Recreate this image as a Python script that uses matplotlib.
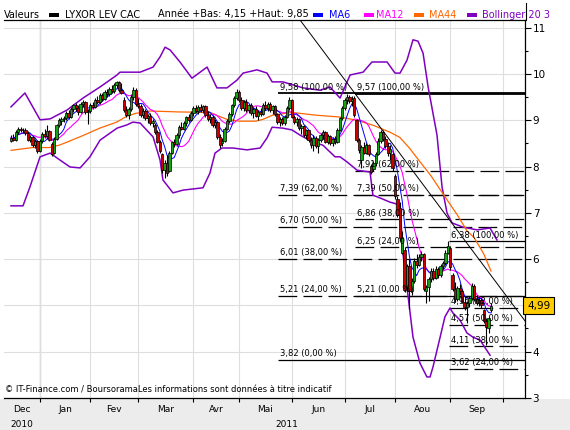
import matplotlib
matplotlib.use("Agg")
import matplotlib.pyplot as plt
import matplotlib.transforms as mtransforms
from matplotlib.patches import Rectangle
from matplotlib.lines import Line2D
import numpy as np
import pandas as pd

# daily candles, one per trading day (index 0 = mid Dec 2010)
opens = [8.55, 8.62, 8.58, 8.74, 8.82, 8.78, 8.80, 8.72, 8.58, 8.64, 8.46, 8.55,
         8.34, 8.56, 8.70, 8.66, 8.76, 8.48, 8.30, 8.60, 8.90, 8.98, 9.02, 9.04,
         9.16, 9.08, 9.24, 9.32, 9.26, 9.18, 9.36, 9.40, 9.18, 9.20, 9.34, 9.28,
         9.44, 9.40, 9.54, 9.46, 9.62, 9.56, 9.68, 9.64, 9.76, 9.82, 9.66, 9.44,
         9.22, 9.12, 9.24, 9.50, 9.66, 9.36, 9.30, 9.12, 9.20, 9.04, 9.10, 8.94,
         8.90, 8.74, 8.54, 8.26, 7.92, 8.08, 7.90, 8.30, 8.52, 8.48, 8.68, 8.86,
         8.82, 8.94, 9.06, 9.00, 9.16, 9.26, 9.20, 9.28, 9.22, 9.30, 9.12, 9.02,
         9.08, 8.90, 8.96, 8.64, 8.50, 8.56, 8.82, 8.98, 9.14, 9.32, 9.48, 9.62,
         9.44, 9.26, 9.40, 9.22, 9.32, 9.16, 9.24, 9.10, 9.18, 9.14, 9.34, 9.26,
         9.36, 9.22, 9.30, 9.14, 8.96, 9.02, 8.94, 9.08, 9.26, 9.44, 9.08, 8.96,
         9.02, 8.84, 8.88, 8.68, 8.78, 8.58, 8.46, 8.62, 8.44, 8.58, 8.68, 8.74,
         8.54, 8.66, 8.50, 8.60, 8.52, 8.80, 9.04, 9.26, 9.44, 9.50, 9.42, 9.48,
         9.00, 8.58, 8.14, 8.42, 8.30, 8.46, 8.02, 7.94, 8.08, 8.28, 8.56, 8.74,
         8.60, 8.44, 8.30, 8.28, 7.80, 7.30, 7.10, 6.14, 6.20, 5.40, 5.84, 5.30,
         5.52, 5.96, 5.88, 6.04, 6.10, 5.30, 5.40, 5.56, 5.74, 5.60, 5.78, 5.66,
         5.84, 5.92, 6.14, 6.24, 5.66, 5.36, 5.14, 5.38, 5.30, 5.08, 4.96, 5.04,
         5.16, 5.42, 5.14, 5.04, 5.12, 4.90, 4.66, 4.50, 4.90]
highs = [8.68, 8.70, 8.78, 8.86, 8.86, 8.84, 8.83, 8.76, 8.68, 8.66, 8.60, 8.58,
         8.60, 8.74, 8.82, 8.90, 8.80, 8.52, 8.64, 8.92, 9.05, 9.06, 9.10, 9.20,
         9.22, 9.28, 9.36, 9.38, 9.34, 9.40, 9.44, 9.42, 9.24, 9.38, 9.40, 9.48,
         9.52, 9.58, 9.60, 9.66, 9.68, 9.72, 9.76, 9.80, 9.85, 9.84, 9.80, 9.50,
         9.30, 9.28, 9.56, 9.72, 9.70, 9.48, 9.36, 9.26, 9.24, 9.14, 9.16, 9.02,
         8.94, 8.78, 8.58, 8.30, 8.14, 8.24, 8.34, 8.56, 8.60, 8.72, 8.90, 8.96,
         8.98, 9.10, 9.14, 9.20, 9.30, 9.34, 9.32, 9.36, 9.34, 9.32, 9.20, 9.14,
         9.12, 9.02, 8.98, 8.70, 8.62, 8.86, 9.02, 9.18, 9.36, 9.52, 9.68, 9.66,
         9.50, 9.44, 9.46, 9.36, 9.38, 9.28, 9.30, 9.22, 9.26, 9.38, 9.42, 9.40,
         9.40, 9.34, 9.34, 9.16, 9.06, 9.08, 9.12, 9.30, 9.50, 9.46, 9.12, 9.06,
         9.04, 8.92, 8.90, 8.82, 8.80, 8.64, 8.68, 8.66, 8.62, 8.72, 8.80, 8.76,
         8.70, 8.68, 8.64, 8.66, 8.84, 9.08, 9.30, 9.48, 9.56, 9.54, 9.52, 9.52,
         9.02, 8.62, 8.46, 8.52, 8.50, 8.48, 8.06, 8.12, 8.32, 8.62, 8.80, 8.78,
         8.66, 8.52, 8.46, 8.30, 7.84, 7.36, 7.24, 6.60, 6.26, 5.90, 6.00, 5.60,
         6.02, 6.10, 6.10, 6.18, 6.14, 5.44, 5.62, 5.80, 5.80, 5.84, 5.82, 5.90,
         5.96, 6.20, 6.38, 6.28, 5.70, 5.50, 5.42, 5.46, 5.36, 5.16, 5.10, 5.20,
         5.48, 5.46, 5.22, 5.18, 5.16, 4.92, 4.72, 4.76, 5.04]
lows = [8.52, 8.55, 8.56, 8.70, 8.74, 8.72, 8.68, 8.55, 8.52, 8.42, 8.40, 8.30,
        8.32, 8.50, 8.62, 8.60, 8.55, 8.22, 8.26, 8.58, 8.86, 8.90, 8.96, 9.00,
        9.02, 9.05, 9.18, 9.20, 9.12, 9.16, 9.28, 9.14, 8.92, 9.16, 9.24, 9.26,
        9.36, 9.36, 9.42, 9.44, 9.50, 9.52, 9.60, 9.60, 9.70, 9.62, 9.56, 9.18,
        9.06, 9.02, 9.20, 9.44, 9.30, 9.26, 9.08, 9.04, 9.00, 8.94, 8.90, 8.86,
        8.70, 8.50, 8.30, 7.86, 7.76, 7.80, 7.88, 8.26, 8.42, 8.44, 8.62, 8.78,
        8.80, 8.88, 8.96, 8.98, 9.10, 9.16, 9.14, 9.18, 9.16, 9.08, 8.98, 8.94,
        8.86, 8.84, 8.60, 8.40, 8.44, 8.52, 8.78, 8.94, 9.10, 9.28, 9.44, 9.40,
        9.22, 9.20, 9.18, 9.16, 9.12, 9.04, 9.06, 9.00, 9.10, 9.12, 9.22, 9.20,
        9.18, 9.14, 9.10, 8.92, 8.88, 8.90, 8.90, 9.04, 9.22, 9.04, 8.92, 8.88,
        8.80, 8.70, 8.64, 8.60, 8.54, 8.40, 8.34, 8.40, 8.30, 8.52, 8.60, 8.50,
        8.48, 8.46, 8.44, 8.48, 8.50, 8.76, 9.00, 9.22, 9.36, 9.38, 9.30, 9.08,
        8.54, 8.30, 7.96, 8.26, 8.26, 8.22, 7.84, 7.90, 8.02, 8.24, 8.50, 8.56,
        8.40, 8.22, 8.14, 7.90, 7.30, 6.90, 6.40, 6.10, 5.28, 5.30, 4.92, 5.22,
        5.48, 5.80, 5.84, 5.96, 5.30, 5.04, 5.10, 5.50, 5.54, 5.56, 5.60, 5.62,
        5.78, 5.88, 6.10, 5.76, 5.30, 5.08, 5.10, 5.22, 5.04, 4.90, 4.62, 4.96,
        5.12, 5.10, 5.00, 4.98, 4.94, 4.62, 4.15, 4.40, 4.86]
closes = [8.62, 8.58, 8.74, 8.82, 8.78, 8.80, 8.72, 8.58, 8.64, 8.46, 8.55, 8.34,
          8.56, 8.70, 8.66, 8.76, 8.58, 8.28, 8.60, 8.90, 9.00, 9.02, 9.04, 9.16,
          9.08, 9.24, 9.32, 9.26, 9.18, 9.36, 9.40, 9.18, 9.20, 9.34, 9.28, 9.44,
          9.40, 9.54, 9.46, 9.62, 9.56, 9.68, 9.64, 9.76, 9.82, 9.66, 9.60, 9.22,
          9.12, 9.24, 9.50, 9.66, 9.36, 9.30, 9.12, 9.20, 9.04, 9.10, 8.94, 8.98,
          8.74, 8.54, 8.34, 7.92, 8.08, 7.86, 8.30, 8.52, 8.48, 8.68, 8.86, 8.82,
          8.94, 9.06, 9.00, 9.16, 9.26, 9.20, 9.28, 9.22, 9.30, 9.12, 9.02, 9.08,
          8.90, 8.96, 8.64, 8.46, 8.56, 8.82, 8.98, 9.14, 9.32, 9.48, 9.62, 9.44,
          9.26, 9.40, 9.22, 9.32, 9.16, 9.24, 9.10, 9.18, 9.14, 9.34, 9.26, 9.36,
          9.22, 9.30, 9.14, 8.96, 9.02, 8.94, 9.08, 9.26, 9.44, 9.08, 8.96, 9.02,
          8.84, 8.88, 8.68, 8.78, 8.58, 8.46, 8.62, 8.44, 8.58, 8.68, 8.74, 8.54,
          8.66, 8.50, 8.60, 8.52, 8.80, 9.04, 9.26, 9.44, 9.50, 9.42, 9.46, 9.12,
          8.58, 8.36, 8.42, 8.30, 8.46, 8.26, 7.88, 8.08, 8.28, 8.56, 8.74, 8.60,
          8.44, 8.30, 8.38, 7.96, 7.36, 6.96, 6.46, 6.46, 5.34, 5.84, 5.30, 5.52,
          5.96, 5.88, 6.04, 6.10, 5.36, 5.40, 5.56, 5.74, 5.60, 5.78, 5.66, 5.84,
          5.92, 6.14, 6.28, 5.82, 5.36, 5.14, 5.38, 5.30, 5.08, 4.96, 5.04, 5.16,
          5.42, 5.14, 5.04, 5.12, 5.00, 4.66, 4.52, 4.72, 4.99]

# trading days per month on the axis (Dec only partly visible)
month_names = ["Dec", "Jan", "Fev", "Mar", "Avr", "Mai", "Jun", "Jul", "Aou", "Sep"]
month_days = [12, 21, 20, 23, 19, 22, 22, 21, 23, 22]

# MA44 and Bollinger 20/3 (day index, price)
ma44_idx = [0, 9, 16, 20, 23, 30, 37, 44, 48, 52, 58, 70, 83, 86, 90, 95, 102, 105,
            109, 117, 127, 137, 144, 151, 158, 162, 166, 170, 175, 180, 186, 190,
            193, 197, 200]
ma44_val = [8.35, 8.41, 8.41, 8.46, 8.52, 8.67, 8.83, 8.96, 9.08, 9.15, 9.20, 9.18,
            9.17, 9.10, 9.02, 8.98, 8.98, 9.02, 9.11, 9.17, 9.11, 9.07, 9.00, 8.89,
            8.74, 8.63, 8.40, 8.13, 7.80, 7.41, 6.95, 6.61, 6.46, 6.11, 5.74]

boll_up_idx = [0, 5.8, 12.1, 16.3, 23.3, 30, 37.1, 44.2, 45.4, 53.8, 59.2, 62.1,
               64.2, 66.3, 70.4, 75.4, 81.7, 85.8, 90, 94.2, 96.7, 102.5, 106.7,
               108.8, 113.3, 121.7, 128.8, 132.9, 137.1, 141.3, 146.7, 150.4,
               156.7, 160, 162.1, 165, 167.5, 169.6, 171.7, 173.8, 175.8, 177.5,
               179.6, 181.7, 183.8, 188.3, 194.2, 199.6, 202.5]
boll_up_val = [9.29, 9.59, 9.01, 9.03, 9.22, 9.48, 9.72, 9.98, 10.04, 10.04, 10.15,
               10.37, 10.58, 10.52, 10.26, 9.91, 10.15, 9.70, 9.70, 9.87, 10.02,
               10.09, 10.02, 9.83, 9.83, 9.70, 9.65, 9.72, 9.48, 9.98, 10.04, 10.26,
               10.26, 10.02, 10.02, 10.30, 10.74, 10.71, 10.45, 9.72, 9.16, 8.68,
               7.56, 6.99, 6.78, 6.69, 6.63, 6.67, 6.41]
boll_lo_idx = [0, 5, 7.9, 12.1, 16.3, 20.4, 24.6, 28.8, 32.9, 37.1, 44.2, 48.3,
               50.8, 53.8, 59.2, 62.1, 63.3, 67.5, 71.7, 80, 82.9, 85, 87.9, 92.5,
               98.3, 103.8, 106.7, 108.8, 113.3, 117.1, 120.4, 125.8, 130, 135,
               137.1, 140, 144.2, 149.6, 150.8, 153.8, 157.9, 162.1, 163.3, 165,
               167.5, 170.4, 173.3, 174.6, 175.8, 178.8, 180.8, 182.9, 184.2, 187.1,
               190, 192.5, 195.4, 199.6]
boll_lo_val = [7.15, 7.15, 7.56, 8.21, 8.29, 8.14, 7.99, 7.97, 8.21, 8.57, 8.83,
               8.90, 8.96, 8.94, 8.64, 8.14, 7.71, 7.43, 7.49, 7.54, 7.86, 8.29,
               8.40, 8.40, 8.36, 8.40, 8.62, 8.85, 8.83, 8.79, 8.68, 8.53, 8.46,
               8.21, 8.21, 8.10, 7.92, 7.88, 7.38, 7.32, 7.23, 7.17, 6.13, 5.39,
               4.31, 3.75, 3.45, 3.45, 3.66, 4.31, 4.75, 4.94, 4.83, 4.68, 4.40,
               4.31, 4.25, 3.92]

# black trend line (two anchors)
trend_idx = [120.4, 214.2]
trend_val = [11.17, 4.66]

# Fibonacci retracements: start day, levels, percentages
fib_start = [111.3, 143.3, 182.5]
fib_a_levels = [9.58, 7.39, 6.70, 6.01, 5.21, 3.82]
fib_a_pcts = [100, 62, 50, 38, 24, 0]
fib_b_levels = [9.57, 7.91, 7.39, 6.86, 6.25, 5.21]
fib_b_pcts = [100, 62, 50, 38, 24, 0]
fib_c_levels = [6.38, 4.95, 4.57, 4.11, 3.62]
fib_c_pcts = [100, 62, 50, 38, 24]

W, H = 570, 430


def fr(v):
    return f"{v:.2f}".replace(".", ",")


fig = plt.figure(figsize=(W / 100, H / 100), dpi=100)
fig.patch.set_facecolor("white")
fig.patches.append(Rectangle((0, 0), 1, 1 - 398.5 / H, transform=fig.transFigure,
                             facecolor="#ececec", edgecolor="none", zorder=-5))

ax = fig.add_axes([4 / W, 1 - 398 / H, 521 / W, 378 / H])
x_left, x_right = -2.92, 214.17
ax.set_xlim(x_left, x_right)
ax.set_ylim(2.995, 11.168)

bounds = np.cumsum(month_days)
ax.set_xticks(bounds[:-1] if bounds[-1] > x_right else bounds)
ax.set_xticklabels([])
edges = np.concatenate([[x_left], bounds])
centers = (edges[:-1] + edges[1:]) / 2
ax.set_xticks(centers, minor=True)
ax.set_xticklabels(month_names, minor=True, fontsize=6.5)
ax.tick_params(axis="x", which="major", length=3, width=0.8, direction="out")
ax.tick_params(axis="x", which="minor", length=0, pad=5)

# the last-price box hides the "5" label on the price axis
last = closes[-1]
yt = list(range(3, 12))
ax.yaxis.tick_right()
ax.set_yticks(yt)
ax.set_yticklabels(["" if abs(v - last) < 0.2 else str(v) for v in yt])
ax.set_yticks(np.arange(3.5, 11, 1.0), minor=True)
ax.tick_params(axis="y", which="major", length=4, width=0.8, labelsize=7.5, pad=1.5)
ax.tick_params(axis="y", which="minor", length=2.5, width=0.8)

ax.grid(True, which="major", color="#dedede", linewidth=0.8, zorder=0)
ax.axvline(bounds[0], color="#a8a8a8", linewidth=0.9, zorder=0.5)
ax.spines["left"].set_visible(False)
for s in ("top", "bottom", "right"):
    ax.spines[s].set_linewidth(0.9)

# year labels
ax.annotate("2010", (centers[0], 0), xycoords=("data", "axes fraction"),
            xytext=(0, -19), textcoords="offset points", ha="center", va="center",
            fontsize=6.5)
ax.annotate("2011", ((bounds[0] + x_right) / 2 + 2, 0), xycoords=("data", "axes fraction"),
            xytext=(0, -19), textcoords="offset points", ha="center", va="center",
            fontsize=6.5)

# Fibonacci lines
for start, levels, pcts in ((fib_start[0], fib_a_levels, fib_a_pcts),
                            (fib_start[1], fib_b_levels, fib_b_pcts),
                            (fib_start[2], fib_c_levels, fib_c_pcts)):
    for lev, pct in zip(levels, pcts):
        solid = pct in (100, 0)
        lw = 1.3 if (pct == 100 and lev > 9) else 0.9
        ax.hlines(lev, start, x_right, colors="black", linewidth=lw,
                  linestyles="solid" if solid else (0, (15, 5)), zorder=2)
        ax.annotate(f"{fr(lev)} ({pct},00 %)", (start, lev), xytext=(1.5, 1.2),
                    textcoords="offset points", fontsize=6, ha="left", va="bottom",
                    zorder=6)

# Bollinger, moving averages
ax.plot(boll_up_idx, boll_up_val, color="#8000c0", linewidth=1.1, zorder=3)
ax.plot(boll_lo_idx, boll_lo_val, color="#8000c0", linewidth=1.1, zorder=3)
ax.plot(ma44_idx, ma44_val, color="#ff6600", linewidth=0.9, zorder=3)

idx = np.arange(len(closes))
cl = pd.Series(closes)
ax.plot(idx, cl.rolling(12, min_periods=1).mean(), color="#ff00ff", linewidth=0.8, zorder=3)
ax.plot(idx, cl.rolling(6, min_periods=1).mean(), color="#0000ff", linewidth=0.7, zorder=3)

# candles
o = np.array(opens)
c = np.array(closes)
colors = np.where(c >= o, "#11a611", "#cc0000")
ax.vlines(idx, lows, highs, color="black", linewidth=0.8, zorder=4)
ax.bar(idx, np.abs(c - o), bottom=np.minimum(o, c), width=0.95, color=colors,
       edgecolor="black", linewidth=0.5, zorder=5)

ax.plot(trend_idx, trend_val, color="black", linewidth=0.7, zorder=4)

# last price box
blend = mtransforms.blended_transform_factory(ax.transAxes, ax.transData)
ax.text(1.004, last, fr(last), transform=blend, fontsize=7.5,
        ha="left", va="center", clip_on=False, zorder=10,
        bbox=dict(boxstyle="square,pad=0.35", facecolor="#ffcc00",
                  edgecolor="black", linewidth=0.8))

ax.text(0.002, 0.022, "\u00a9 IT-Finance.com / BoursoramaLes informations sont données à titre indicatif",
        transform=ax.transAxes, fontsize=6, ha="left", va="center", zorder=7)

# header / legend row
fig.add_artist(Line2D([525.5 / W] * 2, [1 - 20 / H, 1 - 3 / H], color="black",
                      linewidth=0.8, transform=fig.transFigure))
ty = 1 - 14.5 / H
fig.text(4 / W, ty, "Valeurs", fontsize=7, va="center")
legend_items = [(49, 65, "black", "LYXOR LEV CAC", "black"),
                (313, 329, "#0000ff", "MA6", "#0000ff"),
                (364, 376, "#ff00ff", "MA12", "#ff00ff"),
                (414, 429, "#ff6600", "MA44", "#ff6600"),
                (467, 482, "#8000c0", "Bollinger 20 3", "#8000c0")]
for px, tx, pc, label, tc in legend_items:
    fig.patches.append(Rectangle((px / W, 1 - 16.5 / H), 10 / W, 3.5 / H,
                                 transform=fig.transFigure, facecolor=pc,
                                 edgecolor="none"))
    fig.text(tx / W, ty, label, fontsize=7, va="center", color=tc)
fig.text(158 / W, ty, f"Année +Bas: {fr(min(lows))} +Haut: {fr(max(highs))}",
         fontsize=7, va="center")

fig.savefig("out.png", dpi=100, facecolor=fig.get_facecolor())
